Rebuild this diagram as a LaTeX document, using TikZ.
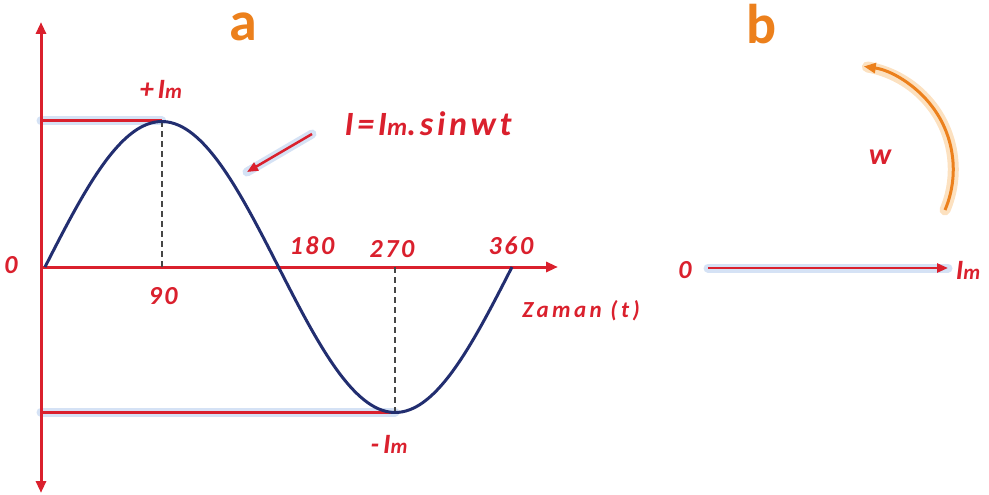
\documentclass[tikz,border=0pt]{standalone}
\usepackage{fontspec}
\setmainfont{Carlito}
\usetikzlibrary{arrows.meta}
\definecolor{lred}{RGB}{218,32,45}
\definecolor{navy}{RGB}{34,46,112}
\definecolor{lorange}{RGB}{236,128,28}
\definecolor{glowblue}{RGB}{178,202,236}
\definecolor{gloworange}{RGB}{250,205,150}
\definecolor{dgray}{RGB}{70,70,70}
\newcommand{\lblfont}[2]{\fontsize{#1}{#1}\selectfont\bfseries\itshape\addfontfeatures{LetterSpace=#2}}
\newcommand{\msub}[1]{{\fontsize{#1}{#1}\selectfont m}}
\tikzset{
  redline/.style={draw=lred, line width=3pt},
  glowline/.style={draw=glowblue, line width=9pt, opacity=0.55, line cap=round},
  axisarrow/.style={-{Triangle[length=12pt,width=10pt]}},
  lbl/.style={text=lred, inner sep=0pt},
  dashline/.style={draw=dgray, line width=2.2pt, dash pattern=on 6pt off 4pt},
}
\begin{document}
\begin{tikzpicture}[x=1pt,y=-1pt]
\useasboundingbox (0,0) rectangle (989,495);
% coordinates
\coordinate (O) at (41,267);
\coordinate (Ytop) at (41,22);
\coordinate (Ybot) at (41,493);
\coordinate (Xend) at (558,267);
\coordinate (Pk) at (161.75,121);
\coordinate (Tr) at (395,412);
\coordinate (PkL) at (41,121);
\coordinate (TrL) at (41,412);
\coordinate (Pk0) at (161.75,267);
\coordinate (Tr0) at (395,267);
\coordinate (ArS) at (312,134);
\coordinate (ArE) at (247,172);
\coordinate (BO) at (708,268);
\coordinate (BE) at (948,268);
\coordinate (ArcS) at (945,210);

% glow under red lines
\draw[glowline] (PkL) -- (Pk);
\draw[glowline] (TrL) -- (Tr);
\draw[glowline] (ArS) -- (ArE);
\draw[glowline] (BO) -- (BE);

% axes
\draw[redline, {Triangle[length=12pt,width=10pt]}-{Triangle[length=12pt,width=10pt]}] (Ybot) -- (Ytop);
\draw[redline, axisarrow] (O) -- (Xend);

% peak / trough lines
\draw[redline] (PkL) -- (Pk);
\draw[redline] (TrL) -- (Tr);

% dashed
\draw[dashline] (Pk) -- (Pk0);
\draw[dashline] (Tr0) -- (Tr);

% sine
\draw[navy, line width=3pt] plot[domain=0:360, samples=120, smooth] ({45+\x*1.29722}, {267-145.5*sin(\x)});

% pointer arrow
\draw[draw=lred, line width=2.5pt, -{Triangle[length=11pt,width=9pt]}] (ArS) -- (ArE);

% labels part a
\node[lbl] (plusIm) at (161,89) {\lblfont{28pt}{14}+I\msub{21pt}};
\node[lbl] (formula) at (428,124) {\lblfont{34pt}{11}I=I\msub{25pt}.sinwt};
\node[lbl] (zero) at (11,265) {\lblfont{26pt}{10}0};
\node[lbl] (n90) at (163,296) {\lblfont{26pt}{10}90};
\node[lbl] (n180) at (312,246) {\lblfont{26pt}{10}180};
\node[lbl] (n270) at (392,249) {\lblfont{26pt}{10}270};
\node[lbl] (n360) at (511,246) {\lblfont{26pt}{10}360};
\node[lbl] (zaman) at (581,311) {\lblfont{23pt}{15}Zaman (t)};
\node[lbl] (minIm) at (389,444) {\lblfont{28pt}{14}-I\msub{21pt}};
\node[text=lorange, inner sep=0pt] (la) at (243,27) {\fontsize{56pt}{56pt}\selectfont\bfseries a};
\node[text=lorange, inner sep=0pt] (lb) at (762,24) {\fontsize{56pt}{56pt}\selectfont\bfseries b};

% part b
\draw[draw=lred, line width=2.5pt, -{Triangle[length=11pt,width=9pt]}] (BO) -- (BE);
\node[lbl] (bzero) at (685,270) {\lblfont{26pt}{10}0};
\node[lbl] (bIm) at (968,270) {\lblfont{28pt}{14}I\msub{21pt}};
\node[lbl] (w) at (880,157) {\lblfont{30pt}{10}w};
\draw[draw=gloworange, line width=11pt, opacity=0.6, line cap=round] (ArcS) arc[start angle=23, end angle=-80, radius=104];
\draw[draw=lorange, line width=3pt, -{Triangle[length=12pt,width=10pt]}] (ArcS) arc[start angle=23, end angle=-82, radius=104];
\end{tikzpicture}
\end{document}
